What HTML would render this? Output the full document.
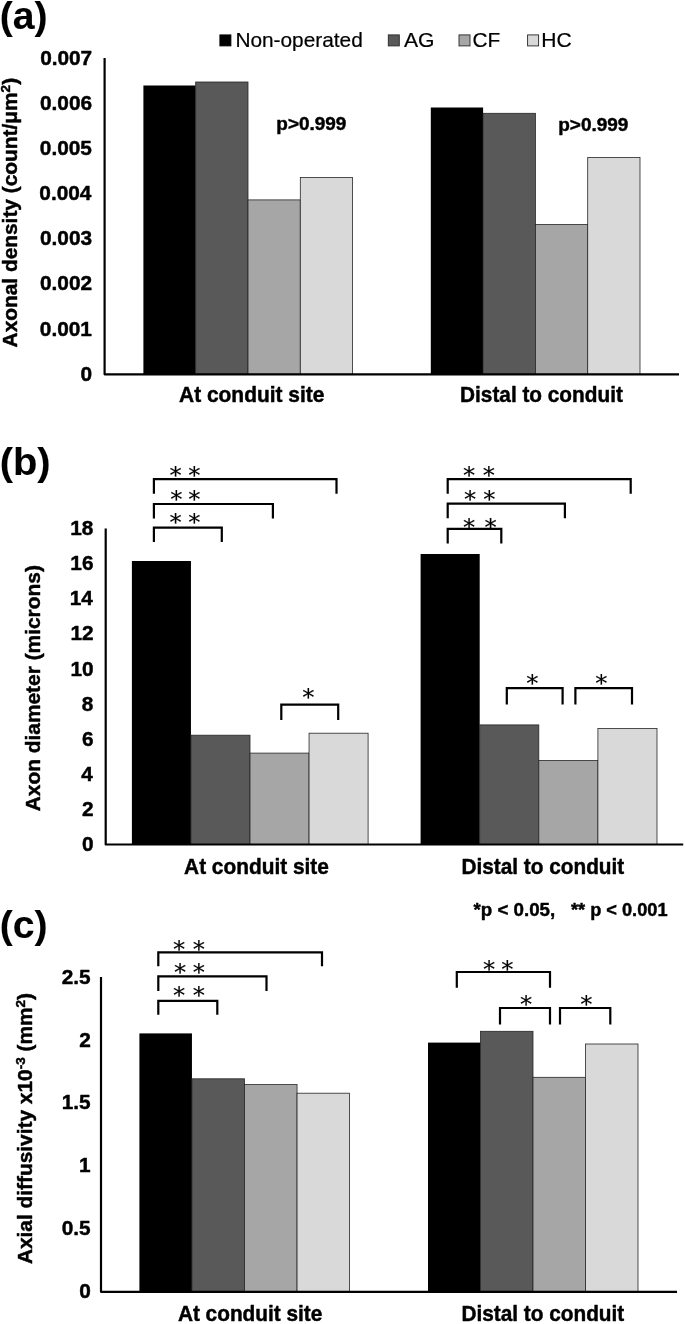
<!DOCTYPE html>
<html lang="en">
<head>
<meta charset="utf-8">
<title>Axonal density, axon diameter and axial diffusivity</title>
<style>
html,body{margin:0;padding:0;background:#fff;}
svg{display:block;will-change:transform;filter:grayscale(1);}
text{fill:#000;white-space:pre;}
</style>
</head>
<body>
<svg width="685" height="1324" viewBox="0 0 685 1324">
<rect x="0" y="0" width="685" height="1324" fill="#ffffff"/>
<text transform="translate(-0.26,28.80) scale(1.0288,1)" font-size="38.1" font-weight="bold" font-family="'Liberation Sans', Arial, Helvetica, sans-serif" stroke="#000" stroke-width="0.1">(a)</text>
<rect x="219.90" y="34.90" width="11.00" height="11.00" fill="#000000" stroke="#000" stroke-width="0.9"/>
<text transform="translate(235.38,46.70) scale(1.0173,1)" font-size="20.5" font-weight="normal" font-family="'Liberation Sans', Arial, Helvetica, sans-serif" stroke="#000" stroke-width="0.2">Non-operated</text>
<rect x="388.30" y="34.90" width="11.00" height="11.00" fill="#595959" stroke="#262626" stroke-width="0.9"/>
<text transform="translate(403.95,46.70) scale(1.0309,1)" font-size="20.5" font-weight="normal" font-family="'Liberation Sans', Arial, Helvetica, sans-serif" stroke="#000" stroke-width="0.2">AG</text>
<rect x="459.00" y="34.90" width="11.00" height="11.00" fill="#a6a6a6" stroke="#262626" stroke-width="0.9"/>
<text transform="translate(472.56,46.70) scale(1.0168,1)" font-size="20.5" font-weight="normal" font-family="'Liberation Sans', Arial, Helvetica, sans-serif" stroke="#000" stroke-width="0.2">CF</text>
<rect x="527.60" y="34.90" width="11.00" height="11.00" fill="#d9d9d9" stroke="#262626" stroke-width="0.9"/>
<text transform="translate(541.36,46.70) scale(1.0272,1)" font-size="20.5" font-weight="normal" font-family="'Liberation Sans', Arial, Helvetica, sans-serif" stroke="#000" stroke-width="0.2">HC</text>
<rect x="143.40" y="85.50" width="52.30" height="288.80" fill="#000000" stroke="none" stroke-width="0.8"/>
<rect x="195.70" y="82.00" width="52.30" height="292.30" fill="#595959" stroke="#262626" stroke-width="0.8"/>
<rect x="248.00" y="199.90" width="52.30" height="174.40" fill="#a6a6a6" stroke="#262626" stroke-width="0.8"/>
<rect x="300.30" y="177.40" width="52.30" height="196.90" fill="#d9d9d9" stroke="#262626" stroke-width="0.8"/>
<rect x="430.80" y="107.50" width="52.30" height="266.80" fill="#000000" stroke="none" stroke-width="0.8"/>
<rect x="483.10" y="113.30" width="52.30" height="261.00" fill="#595959" stroke="#262626" stroke-width="0.8"/>
<rect x="535.40" y="224.50" width="52.30" height="149.80" fill="#a6a6a6" stroke="#262626" stroke-width="0.8"/>
<rect x="587.70" y="157.50" width="52.30" height="216.80" fill="#d9d9d9" stroke="#262626" stroke-width="0.8"/>
<polyline points="104.60,58.00 104.60,374.30 679.00,374.30" fill="none" stroke="#000" stroke-width="2.2" stroke-linejoin="round"/>
<text transform="translate(80.59,380.85) scale(1.0000,1)" font-size="20.8" font-weight="bold" font-family="'Liberation Sans', Arial, Helvetica, sans-serif" stroke="#000" stroke-width="0.45" stroke-linejoin="round">0</text>
<text transform="translate(39.82,335.66) scale(1.0000,1)" font-size="20.8" font-weight="bold" font-family="'Liberation Sans', Arial, Helvetica, sans-serif" stroke="#000" stroke-width="0.45" stroke-linejoin="round">0.001</text>
<text transform="translate(40.03,290.48) scale(1.0000,1)" font-size="20.8" font-weight="bold" font-family="'Liberation Sans', Arial, Helvetica, sans-serif" stroke="#000" stroke-width="0.45" stroke-linejoin="round">0.002</text>
<text transform="translate(39.98,245.29) scale(1.0000,1)" font-size="20.8" font-weight="bold" font-family="'Liberation Sans', Arial, Helvetica, sans-serif" stroke="#000" stroke-width="0.45" stroke-linejoin="round">0.003</text>
<text transform="translate(39.35,200.11) scale(1.0000,1)" font-size="20.8" font-weight="bold" font-family="'Liberation Sans', Arial, Helvetica, sans-serif" stroke="#000" stroke-width="0.45" stroke-linejoin="round">0.004</text>
<text transform="translate(39.82,154.92) scale(1.0000,1)" font-size="20.8" font-weight="bold" font-family="'Liberation Sans', Arial, Helvetica, sans-serif" stroke="#000" stroke-width="0.45" stroke-linejoin="round">0.005</text>
<text transform="translate(39.98,109.74) scale(1.0000,1)" font-size="20.8" font-weight="bold" font-family="'Liberation Sans', Arial, Helvetica, sans-serif" stroke="#000" stroke-width="0.45" stroke-linejoin="round">0.006</text>
<text transform="translate(40.13,64.55) scale(1.0000,1)" font-size="20.8" font-weight="bold" font-family="'Liberation Sans', Arial, Helvetica, sans-serif" stroke="#000" stroke-width="0.45" stroke-linejoin="round">0.007</text>
<text transform="translate(276.37,130.20) scale(1.0184,1)" font-size="18.6" font-weight="bold" font-family="'Liberation Sans', Arial, Helvetica, sans-serif" stroke="#000" stroke-width="0.45" stroke-linejoin="round">p&gt;0.999</text>
<text transform="translate(558.27,131.00) scale(1.0199,1)" font-size="18.6" font-weight="bold" font-family="'Liberation Sans', Arial, Helvetica, sans-serif" stroke="#000" stroke-width="0.45" stroke-linejoin="round">p&gt;0.999</text>
<text transform="translate(179.08,401.80) scale(0.9872,1)" font-size="21.2" font-weight="bold" font-family="'Liberation Sans', Arial, Helvetica, sans-serif" stroke="#000" stroke-width="0.45" stroke-linejoin="round">At conduit site</text>
<text transform="translate(460.10,401.80) scale(0.9802,1)" font-size="21.2" font-weight="bold" font-family="'Liberation Sans', Arial, Helvetica, sans-serif" stroke="#000" stroke-width="0.45" stroke-linejoin="round">Distal to conduit</text>
<text transform="translate(17.30,347.42) rotate(-90) scale(1.0032,1)" font-size="20.8" font-weight="bold" font-family="'Liberation Sans', Arial, Helvetica, sans-serif" xml:space="preserve" stroke="#000" stroke-width="0.45" stroke-linejoin="round"><tspan dy="0">Axonal density (count/μm</tspan><tspan font-size="13.5" dy="-7.0">2</tspan><tspan dy="7.0">)</tspan></text>
<text transform="translate(-0.30,474.70) scale(1.0476,1)" font-size="38.1" font-weight="bold" font-family="'Liberation Sans', Arial, Helvetica, sans-serif" stroke="#000" stroke-width="0.1">(b)</text>
<rect x="131.90" y="561.00" width="59.05" height="283.50" fill="#000000" stroke="none" stroke-width="0.8"/>
<rect x="190.95" y="735.20" width="59.05" height="109.30" fill="#595959" stroke="#262626" stroke-width="0.8"/>
<rect x="250.00" y="753.10" width="59.05" height="91.40" fill="#a6a6a6" stroke="#262626" stroke-width="0.8"/>
<rect x="309.05" y="733.20" width="59.05" height="111.30" fill="#d9d9d9" stroke="#262626" stroke-width="0.8"/>
<rect x="420.60" y="554.00" width="59.10" height="290.50" fill="#000000" stroke="none" stroke-width="0.8"/>
<rect x="479.70" y="724.90" width="59.10" height="119.60" fill="#595959" stroke="#262626" stroke-width="0.8"/>
<rect x="538.80" y="760.50" width="59.10" height="84.00" fill="#a6a6a6" stroke="#262626" stroke-width="0.8"/>
<rect x="597.90" y="728.40" width="59.10" height="116.10" fill="#d9d9d9" stroke="#262626" stroke-width="0.8"/>
<polyline points="105.70,528.60 105.70,844.50 683.20,844.50" fill="none" stroke="#000" stroke-width="2.2" stroke-linejoin="round"/>
<text transform="translate(81.99,851.05) scale(1.0000,1)" font-size="20.8" font-weight="bold" font-family="'Liberation Sans', Arial, Helvetica, sans-serif" stroke="#000" stroke-width="0.45" stroke-linejoin="round">0</text>
<text transform="translate(81.94,815.95) scale(1.0000,1)" font-size="20.8" font-weight="bold" font-family="'Liberation Sans', Arial, Helvetica, sans-serif" stroke="#000" stroke-width="0.45" stroke-linejoin="round">2</text>
<text transform="translate(81.26,780.85) scale(1.0000,1)" font-size="20.8" font-weight="bold" font-family="'Liberation Sans', Arial, Helvetica, sans-serif" stroke="#000" stroke-width="0.45" stroke-linejoin="round">4</text>
<text transform="translate(81.88,745.75) scale(1.0000,1)" font-size="20.8" font-weight="bold" font-family="'Liberation Sans', Arial, Helvetica, sans-serif" stroke="#000" stroke-width="0.45" stroke-linejoin="round">6</text>
<text transform="translate(81.78,710.65) scale(1.0000,1)" font-size="20.8" font-weight="bold" font-family="'Liberation Sans', Arial, Helvetica, sans-serif" stroke="#000" stroke-width="0.45" stroke-linejoin="round">8</text>
<text transform="translate(70.44,675.55) scale(1.0000,1)" font-size="20.8" font-weight="bold" font-family="'Liberation Sans', Arial, Helvetica, sans-serif" stroke="#000" stroke-width="0.45" stroke-linejoin="round">10</text>
<text transform="translate(70.39,640.45) scale(1.0000,1)" font-size="20.8" font-weight="bold" font-family="'Liberation Sans', Arial, Helvetica, sans-serif" stroke="#000" stroke-width="0.45" stroke-linejoin="round">12</text>
<text transform="translate(69.72,605.35) scale(1.0000,1)" font-size="20.8" font-weight="bold" font-family="'Liberation Sans', Arial, Helvetica, sans-serif" stroke="#000" stroke-width="0.45" stroke-linejoin="round">14</text>
<text transform="translate(70.34,570.25) scale(1.0000,1)" font-size="20.8" font-weight="bold" font-family="'Liberation Sans', Arial, Helvetica, sans-serif" stroke="#000" stroke-width="0.45" stroke-linejoin="round">16</text>
<text transform="translate(70.24,535.15) scale(1.0000,1)" font-size="20.8" font-weight="bold" font-family="'Liberation Sans', Arial, Helvetica, sans-serif" stroke="#000" stroke-width="0.45" stroke-linejoin="round">18</text>
<text transform="translate(184.08,874.30) scale(0.9838,1)" font-size="21.2" font-weight="bold" font-family="'Liberation Sans', Arial, Helvetica, sans-serif" stroke="#000" stroke-width="0.45" stroke-linejoin="round">At conduit site</text>
<text transform="translate(461.50,874.40) scale(0.9802,1)" font-size="21.2" font-weight="bold" font-family="'Liberation Sans', Arial, Helvetica, sans-serif" stroke="#000" stroke-width="0.45" stroke-linejoin="round">Distal to conduit</text>
<text transform="translate(40.40,811.32) rotate(-90) scale(1.0051,1)" font-size="20.8" font-weight="bold" font-family="'Liberation Sans', Arial, Helvetica, sans-serif" xml:space="preserve" stroke="#000" stroke-width="0.45" stroke-linejoin="round"><tspan dy="0">Axon diameter (microns)</tspan></text>
<polyline points="153.90,493.70 153.90,479.20 336.50,479.20 336.50,493.70" fill="none" stroke="#000" stroke-width="2.2" stroke-linejoin="miter"/>
<text transform="translate(169.50,483.45) scale(1.06,1)" font-size="23.0" font-family="'DejaVu Sans', 'Liberation Sans', sans-serif" stroke="#000" stroke-width="0.15">*</text>
<text transform="translate(188.31,483.45) scale(1.06,1)" font-size="23.0" font-family="'DejaVu Sans', 'Liberation Sans', sans-serif" stroke="#000" stroke-width="0.15">*</text>
<polyline points="153.90,518.50 153.90,504.00 272.90,504.00 272.90,518.50" fill="none" stroke="#000" stroke-width="2.2" stroke-linejoin="miter"/>
<text transform="translate(170.21,507.25) scale(1.06,1)" font-size="23.0" font-family="'DejaVu Sans', 'Liberation Sans', sans-serif" stroke="#000" stroke-width="0.15">*</text>
<text transform="translate(188.31,507.25) scale(1.06,1)" font-size="23.0" font-family="'DejaVu Sans', 'Liberation Sans', sans-serif" stroke="#000" stroke-width="0.15">*</text>
<polyline points="153.90,542.10 153.90,527.60 221.80,527.60 221.80,542.10" fill="none" stroke="#000" stroke-width="2.2" stroke-linejoin="miter"/>
<text transform="translate(169.50,530.25) scale(1.06,1)" font-size="23.0" font-family="'DejaVu Sans', 'Liberation Sans', sans-serif" stroke="#000" stroke-width="0.15">*</text>
<text transform="translate(188.31,530.25) scale(1.06,1)" font-size="23.0" font-family="'DejaVu Sans', 'Liberation Sans', sans-serif" stroke="#000" stroke-width="0.15">*</text>
<polyline points="281.30,720.10 281.30,704.70 338.20,704.70 338.20,720.10" fill="none" stroke="#000" stroke-width="2.2" stroke-linejoin="miter"/>
<text transform="translate(302.20,705.05) scale(1.06,1)" font-size="23.0" font-family="'DejaVu Sans', 'Liberation Sans', sans-serif" stroke="#000" stroke-width="0.15">*</text>
<polyline points="447.70,493.70 447.70,479.20 630.70,479.20 630.70,493.70" fill="none" stroke="#000" stroke-width="2.2" stroke-linejoin="miter"/>
<text transform="translate(463.10,483.35) scale(1.06,1)" font-size="23.0" font-family="'DejaVu Sans', 'Liberation Sans', sans-serif" stroke="#000" stroke-width="0.15">*</text>
<text transform="translate(482.80,483.35) scale(1.06,1)" font-size="23.0" font-family="'DejaVu Sans', 'Liberation Sans', sans-serif" stroke="#000" stroke-width="0.15">*</text>
<polyline points="447.70,518.20 447.70,503.70 564.90,503.70 564.90,518.20" fill="none" stroke="#000" stroke-width="2.2" stroke-linejoin="miter"/>
<text transform="translate(464.00,507.45) scale(1.06,1)" font-size="23.0" font-family="'DejaVu Sans', 'Liberation Sans', sans-serif" stroke="#000" stroke-width="0.15">*</text>
<text transform="translate(483.30,507.45) scale(1.06,1)" font-size="23.0" font-family="'DejaVu Sans', 'Liberation Sans', sans-serif" stroke="#000" stroke-width="0.15">*</text>
<polyline points="447.70,543.40 447.70,528.90 501.30,528.90 501.30,543.40" fill="none" stroke="#000" stroke-width="2.2" stroke-linejoin="miter"/>
<text transform="translate(463.10,534.75) scale(1.06,1)" font-size="23.0" font-family="'DejaVu Sans', 'Liberation Sans', sans-serif" stroke="#000" stroke-width="0.15">*</text>
<text transform="translate(484.40,534.75) scale(1.06,1)" font-size="23.0" font-family="'DejaVu Sans', 'Liberation Sans', sans-serif" stroke="#000" stroke-width="0.15">*</text>
<polyline points="506.80,704.60 506.80,688.10 562.60,688.10 562.60,704.60" fill="none" stroke="#000" stroke-width="2.2" stroke-linejoin="miter"/>
<text transform="translate(526.20,690.85) scale(1.06,1)" font-size="23.0" font-family="'DejaVu Sans', 'Liberation Sans', sans-serif" stroke="#000" stroke-width="0.15">*</text>
<polyline points="575.40,704.60 575.40,688.10 632.00,688.10 632.00,704.60" fill="none" stroke="#000" stroke-width="2.2" stroke-linejoin="miter"/>
<text transform="translate(595.20,690.85) scale(1.06,1)" font-size="23.0" font-family="'DejaVu Sans', 'Liberation Sans', sans-serif" stroke="#000" stroke-width="0.15">*</text>
<text transform="translate(-0.26,937.90) scale(1.0288,1)" font-size="38.1" font-weight="bold" font-family="'Liberation Sans', Arial, Helvetica, sans-serif" stroke="#000" stroke-width="0.1">(c)</text>
<text y="915.60" font-size="18.8" font-weight="bold" font-family="'Liberation Sans', Arial, Helvetica, sans-serif" xml:space="preserve" stroke="#000" stroke-width="0.45" stroke-linejoin="round"><tspan x="473.55" textLength="81.64" lengthAdjust="spacingAndGlyphs">*p &lt; 0.05,</tspan>   <tspan x="570.95" textLength="96.58" lengthAdjust="spacingAndGlyphs">** p &lt; 0.001</tspan></text>
<rect x="139.40" y="1033.40" width="52.55" height="258.40" fill="#000000" stroke="none" stroke-width="0.8"/>
<rect x="191.95" y="1078.80" width="52.55" height="213.00" fill="#595959" stroke="#262626" stroke-width="0.8"/>
<rect x="244.50" y="1084.60" width="52.55" height="207.20" fill="#a6a6a6" stroke="#262626" stroke-width="0.8"/>
<rect x="297.05" y="1093.20" width="52.55" height="198.60" fill="#d9d9d9" stroke="#262626" stroke-width="0.8"/>
<rect x="428.00" y="1042.60" width="52.50" height="249.20" fill="#000000" stroke="none" stroke-width="0.8"/>
<rect x="480.50" y="1031.30" width="52.50" height="260.50" fill="#595959" stroke="#262626" stroke-width="0.8"/>
<rect x="533.00" y="1077.30" width="52.50" height="214.50" fill="#a6a6a6" stroke="#262626" stroke-width="0.8"/>
<rect x="585.50" y="1044.00" width="52.50" height="247.80" fill="#d9d9d9" stroke="#262626" stroke-width="0.8"/>
<polyline points="101.00,977.00 101.00,1291.80 677.00,1291.80" fill="none" stroke="#000" stroke-width="2.2" stroke-linejoin="round"/>
<text transform="translate(79.29,1298.35) scale(1.0000,1)" font-size="20.8" font-weight="bold" font-family="'Liberation Sans', Arial, Helvetica, sans-serif" stroke="#000" stroke-width="0.45" stroke-linejoin="round">0</text>
<text transform="translate(61.66,1235.39) scale(1.0000,1)" font-size="20.8" font-weight="bold" font-family="'Liberation Sans', Arial, Helvetica, sans-serif" stroke="#000" stroke-width="0.45" stroke-linejoin="round">0.5</text>
<text transform="translate(79.03,1172.43) scale(1.0000,1)" font-size="20.8" font-weight="bold" font-family="'Liberation Sans', Arial, Helvetica, sans-serif" stroke="#000" stroke-width="0.45" stroke-linejoin="round">1</text>
<text transform="translate(61.66,1109.47) scale(1.0000,1)" font-size="20.8" font-weight="bold" font-family="'Liberation Sans', Arial, Helvetica, sans-serif" stroke="#000" stroke-width="0.45" stroke-linejoin="round">1.5</text>
<text transform="translate(79.24,1046.51) scale(1.0000,1)" font-size="20.8" font-weight="bold" font-family="'Liberation Sans', Arial, Helvetica, sans-serif" stroke="#000" stroke-width="0.45" stroke-linejoin="round">2</text>
<text transform="translate(61.66,983.55) scale(1.0000,1)" font-size="20.8" font-weight="bold" font-family="'Liberation Sans', Arial, Helvetica, sans-serif" stroke="#000" stroke-width="0.45" stroke-linejoin="round">2.5</text>
<text transform="translate(177.88,1321.40) scale(0.9818,1)" font-size="21.2" font-weight="bold" font-family="'Liberation Sans', Arial, Helvetica, sans-serif" stroke="#000" stroke-width="0.45" stroke-linejoin="round">At conduit site</text>
<text transform="translate(461.50,1321.30) scale(0.9802,1)" font-size="21.2" font-weight="bold" font-family="'Liberation Sans', Arial, Helvetica, sans-serif" stroke="#000" stroke-width="0.45" stroke-linejoin="round">Distal to conduit</text>
<text transform="translate(32.40,1264.12) rotate(-90) scale(1.0031,1)" font-size="20.8" font-weight="bold" font-family="'Liberation Sans', Arial, Helvetica, sans-serif" xml:space="preserve" stroke="#000" stroke-width="0.45" stroke-linejoin="round"><tspan dy="0">Axial diffusivity x10</tspan><tspan font-size="13.5" dy="-7.0">-3</tspan><tspan dy="7.0"> (mm</tspan><tspan font-size="13.5" dy="-7.0">2</tspan><tspan dy="7.0">)</tspan></text>
<polyline points="158.30,966.30 158.30,952.30 322.00,952.30 322.00,966.30" fill="none" stroke="#000" stroke-width="2.2" stroke-linejoin="miter"/>
<text transform="translate(173.10,956.64) scale(1.06,1)" font-size="23.0" font-family="'DejaVu Sans', 'Liberation Sans', sans-serif" stroke="#000" stroke-width="0.15">*</text>
<text transform="translate(192.71,956.64) scale(1.06,1)" font-size="23.0" font-family="'DejaVu Sans', 'Liberation Sans', sans-serif" stroke="#000" stroke-width="0.15">*</text>
<polyline points="158.30,990.90 158.30,976.40 266.50,976.40 266.50,990.90" fill="none" stroke="#000" stroke-width="2.2" stroke-linejoin="miter"/>
<text transform="translate(174.00,979.95) scale(1.06,1)" font-size="23.0" font-family="'DejaVu Sans', 'Liberation Sans', sans-serif" stroke="#000" stroke-width="0.15">*</text>
<text transform="translate(192.71,979.95) scale(1.06,1)" font-size="23.0" font-family="'DejaVu Sans', 'Liberation Sans', sans-serif" stroke="#000" stroke-width="0.15">*</text>
<polyline points="158.30,1014.80 158.30,1000.80 217.30,1000.80 217.30,1014.80" fill="none" stroke="#000" stroke-width="2.2" stroke-linejoin="miter"/>
<text transform="translate(173.10,1003.05) scale(1.06,1)" font-size="23.0" font-family="'DejaVu Sans', 'Liberation Sans', sans-serif" stroke="#000" stroke-width="0.15">*</text>
<text transform="translate(192.71,1003.05) scale(1.06,1)" font-size="23.0" font-family="'DejaVu Sans', 'Liberation Sans', sans-serif" stroke="#000" stroke-width="0.15">*</text>
<polyline points="456.80,987.70 456.80,972.00 550.00,972.00 550.00,987.70" fill="none" stroke="#000" stroke-width="2.2" stroke-linejoin="miter"/>
<text transform="translate(482.90,976.55) scale(1.06,1)" font-size="23.0" font-family="'DejaVu Sans', 'Liberation Sans', sans-serif" stroke="#000" stroke-width="0.15">*</text>
<text transform="translate(501.30,976.55) scale(1.06,1)" font-size="23.0" font-family="'DejaVu Sans', 'Liberation Sans', sans-serif" stroke="#000" stroke-width="0.15">*</text>
<polyline points="500.00,1024.40 500.00,1008.00 550.00,1008.00 550.00,1024.40" fill="none" stroke="#000" stroke-width="2.2" stroke-linejoin="miter"/>
<text transform="translate(519.90,1012.05) scale(1.06,1)" font-size="23.0" font-family="'DejaVu Sans', 'Liberation Sans', sans-serif" stroke="#000" stroke-width="0.15">*</text>
<polyline points="560.00,1024.40 560.00,1008.00 610.30,1008.00 610.30,1024.40" fill="none" stroke="#000" stroke-width="2.2" stroke-linejoin="miter"/>
<text transform="translate(580.20,1012.05) scale(1.06,1)" font-size="23.0" font-family="'DejaVu Sans', 'Liberation Sans', sans-serif" stroke="#000" stroke-width="0.15">*</text>
</svg>
</body>
</html>
